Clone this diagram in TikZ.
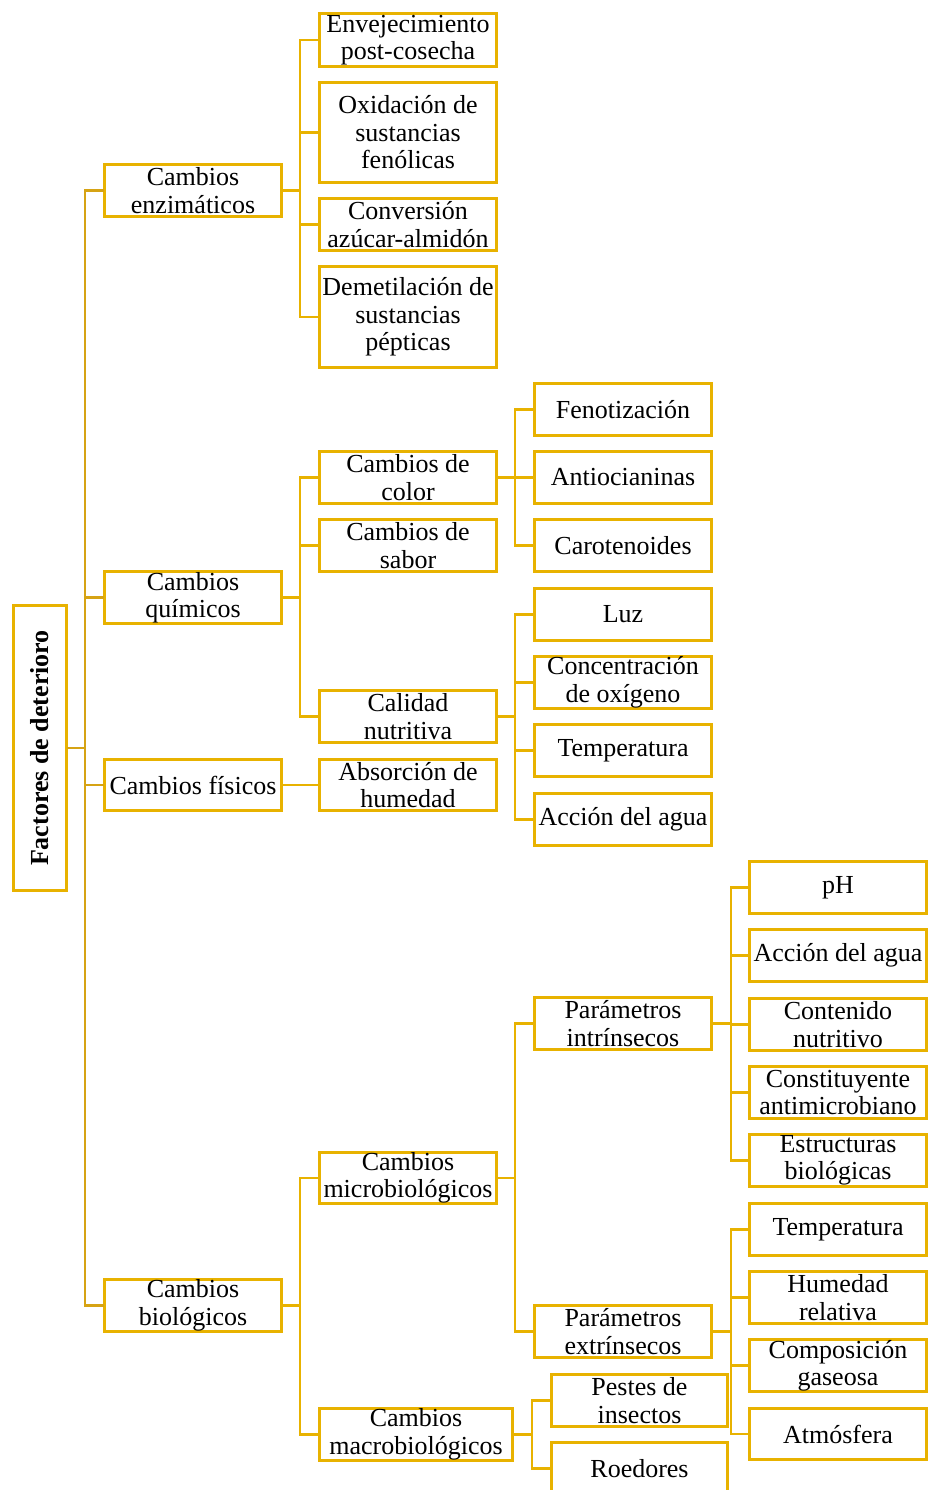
\documentclass[tikz,border=0pt]{standalone}
\usepackage{fontspec}
\setmainfont{Liberation Serif}
\usetikzlibrary{calc}
\definecolor{gold}{RGB}{232,178,0}
\definecolor{trunk}{RGB}{214,163,20}
\tikzset{
  box/.style={draw=gold, line width=2.8pt, inner sep=0pt, align=center, fill=white,
              font=\fontsize{26}{27.5}\selectfont},
  conn/.style={draw=gold, line width=2.5pt, line cap=rect},
  trunkline/.style={draw=trunk, line width=2.5pt, line cap=rect}
}
\newcommand{\bxn}[6]{\node[box, minimum width={#4-#2-2.8}, minimum height={#5-#3-2.8}] (#1) at ({(#2+#4)/2},{(#3+#5)/2}) {#6};}
\begin{document}
\begin{tikzpicture}[x=1pt,y=-1pt]
\useasboundingbox (0,0) rectangle (927,1490);
% bar coordinates
\coordinate (t) at (85,0);
\coordinate (b1) at (300,0);
\coordinate (b2) at (515,0);
\coordinate (b3) at (731,0);
\coordinate (b4) at (532,0);
% root
\node[box, rotate=90, minimum width=285.2, minimum height=53.2, font=\fontsize{26}{27.5}\selectfont\bfseries] (root) at (40,748) {Factores de deterioro};
% level 1
\bxn{enz}{103}{163}{283}{218}{Cambios\\enzimáticos}
\bxn{qui}{103}{570}{283}{625}{Cambios\\químicos}
\bxn{fis}{103}{758}{283}{812}{Cambios físicos}
\bxn{bio}{103}{1278}{283}{1333}{Cambios\\biológicos}
% enzimaticos children
\bxn{env}{318}{12}{498}{68}{Envejecimiento\\post-cosecha}
\bxn{oxi}{318}{81}{498}{184}{Oxidación de\\sustancias\\fenólicas}
\bxn{con}{318}{197}{498}{252}{Conversión\\azúcar-almidón}
\bxn{dem}{318}{265}{498}{369}{Demetilación de\\sustancias\\pépticas}
% quimicos children
\bxn{col}{318}{450}{498}{505}{Cambios de\\color}
\bxn{sab}{318}{518}{498}{573}{Cambios de\\sabor}
\bxn{cal}{318}{689}{498}{744}{Calidad\\nutritiva}
% fisicos child
\bxn{abs}{318}{758}{498}{812}{Absorción de\\humedad}
% color children
\bxn{fen}{533}{382}{713}{437}{Fenotización}
\bxn{ant}{533}{450}{713}{505}{Antiocianinas}
\bxn{car}{533}{518}{713}{573}{Carotenoides}
% calidad children
\bxn{luz}{533}{587}{713}{642}{Luz}
\bxn{oxg}{533}{655}{713}{710}{Concentración\\de oxígeno}
\bxn{tem}{533}{723}{713}{778}{Temperatura}
\bxn{agu}{533}{792}{713}{847}{Acción del agua}
% biologicos children
\bxn{mic}{318}{1151}{498}{1205}{Cambios\\microbiológicos}
\bxn{mac}{318}{1407}{514}{1462}{Cambios\\macrobiológicos}
% microbiologicos children
\bxn{int}{533}{996}{713}{1051}{Parámetros\\intrínsecos}
\bxn{ext}{533}{1304}{713}{1359}{Parámetros\\extrínsecos}
% intrinsecos children
\bxn{ph}{748}{860}{928}{915}{pH}
\bxn{agu2}{748}{928}{928}{983}{Acción del agua}
\bxn{nut}{748}{997}{928}{1052}{Contenido\\nutritivo}
\bxn{ami}{748}{1065}{928}{1120}{Constituyente\\antimicrobiano}
\bxn{est}{748}{1133}{928}{1188}{Estructuras\\biológicas}
% extrinsecos children
\bxn{tem2}{748}{1202}{928}{1257}{Temperatura}
\bxn{hum}{748}{1270}{928}{1325}{Humedad\\relativa}
\bxn{gas}{748}{1338}{928}{1393}{Composición\\gaseosa}
\bxn{atm}{748}{1407}{928}{1461}{Atmósfera}
% macrobiologicos children
\bxn{pes}{550}{1373}{729}{1428}{Pestes de\\insectos}
\bxn{roe}{550}{1441}{729}{1496}{Roedores}
% trunk
\draw[trunkline] (root.south) -- (root.south -| t);
\draw[trunkline] (enz.west -| t) -- (bio.west -| t);
\foreach \n in {enz,qui,fis,bio} \draw[trunkline] (\n.west -| t) -- (\n.west);
% enzimaticos
\draw[conn] (enz.east) -- (enz.east -| b1);
\draw[conn] (env.west -| b1) -- (dem.west -| b1);
\foreach \n in {env,oxi,con,dem} \draw[conn] (\n.west -| b1) -- (\n.west);
% quimicos
\draw[conn] (qui.east) -- (qui.east -| b1);
\draw[conn] (col.west -| b1) -- (cal.west -| b1);
\foreach \n in {col,sab,cal} \draw[conn] (\n.west -| b1) -- (\n.west);
% fisicos
\draw[conn] (fis.east) -- (abs.west);
% color
\draw[conn] (col.east) -- (col.east -| b2);
\draw[conn] (fen.west -| b2) -- (car.west -| b2);
\foreach \n in {fen,ant,car} \draw[conn] (\n.west -| b2) -- (\n.west);
% calidad
\draw[conn] (cal.east) -- (cal.east -| b2);
\draw[conn] (luz.west -| b2) -- (agu.west -| b2);
\foreach \n in {luz,oxg,tem,agu} \draw[conn] (\n.west -| b2) -- (\n.west);
% biologicos
\draw[conn] (bio.east) -- (bio.east -| b1);
\draw[conn] (mic.west -| b1) -- (mac.west -| b1);
\foreach \n in {mic,mac} \draw[conn] (\n.west -| b1) -- (\n.west);
% microbiologicos
\draw[conn] (mic.east) -- (mic.east -| b2);
\draw[conn] (int.west -| b2) -- (ext.west -| b2);
\foreach \n in {int,ext} \draw[conn] (\n.west -| b2) -- (\n.west);
% intrinsecos
\draw[conn] (int.east) -- (int.east -| b3);
\draw[conn] (ph.west -| b3) -- (est.west -| b3);
\foreach \n in {ph,agu2,nut,ami,est} \draw[conn] (\n.west -| b3) -- (\n.west);
% extrinsecos
\draw[conn] (ext.east) -- (ext.east -| b3);
\draw[conn] (tem2.west -| b3) -- (atm.west -| b3);
\foreach \n in {tem2,hum,gas,atm} \draw[conn] (\n.west -| b3) -- (\n.west);
% macrobiologicos
\draw[conn] (mac.east) -- (mac.east -| b4);
\draw[conn] (pes.west -| b4) -- (roe.west -| b4);
\foreach \n in {pes,roe} \draw[conn] (\n.west -| b4) -- (\n.west);
\end{tikzpicture}
\end{document}
